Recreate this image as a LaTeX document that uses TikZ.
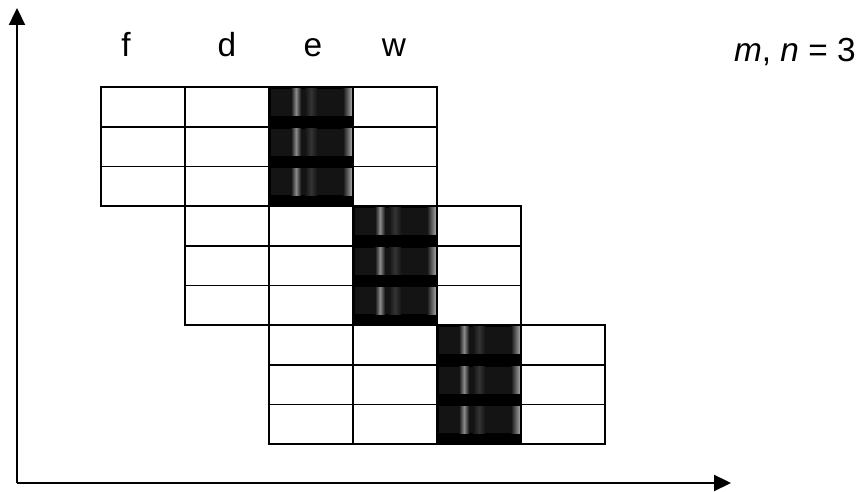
\documentclass[tikz,border=0pt]{standalone}
\usepackage{fontspec}
\setmainfont{Liberation Sans}
\usetikzlibrary{arrows.meta}
\begin{document}
\begin{tikzpicture}[x=0.02cm,y=-0.02cm,
  cellbox/.style={draw=black,line width=1pt},
  axis/.style={line width=1.3pt,-{Triangle[length=0.34cm,width=0.32cm]}},
  lbl/.style={font=\fontsize{19}{22}\selectfont,inner sep=0pt,anchor=base}]
\useasboundingbox (0,0) rectangle (860,492);

% Dark cells (one per block)
\foreach \b in {0,1,2}{
  \foreach \r in {0,1,2}{
    \pgfmathsetmacro{\xa}{101+84*\b+168}
    \pgfmathsetmacro{\ya}{87+119*\b+39.7*\r}
    \fill[black] (\xa,\ya) rectangle ++(84,39.7);
    \fill[black!92] (\xa+2,\ya+2) rectangle ++(80,27);
    \shade[left color=black!92,right color=black!92,middle color=black!45] (\xa+22,\ya+2) rectangle ++(10,27);
    \shade[left color=black!92,right color=black!92,middle color=black!80] (\xa+36,\ya+2) rectangle ++(12,27);
    \shade[left color=black!92,right color=black!35] (\xa+74,\ya+2) rectangle ++(9,27);
  }
}

% Grid blocks
\foreach \b in {0,1,2}{
  \foreach \c in {0,...,3}{
    \foreach \r in {0,1,2}{
      \draw[cellbox] ({101+84*\b+84*\c},{87+119*\b+39.7*\r}) rectangle ++(84,39.7);
    }
  }
}

% Column labels
\node[lbl] (lf) at (126,57) {f};
\node[lbl] (ld) at (227,57) {d};
\node[lbl] (le) at (313,57) {e};
\node[lbl] (lw) at (394,57) {w};

% Parameters
\node[lbl,anchor=base east] (mn) at (856,62) {\textit{m}, \textit{n} = 3};

% Axes
\coordinate (origin) at (17,483);
\coordinate (ytip) at (17,8);
\coordinate (xtip) at (731,483);
\draw[axis] (origin) -- (ytip);
\draw[axis] (origin) -- (xtip);
\end{tikzpicture}
\end{document}
